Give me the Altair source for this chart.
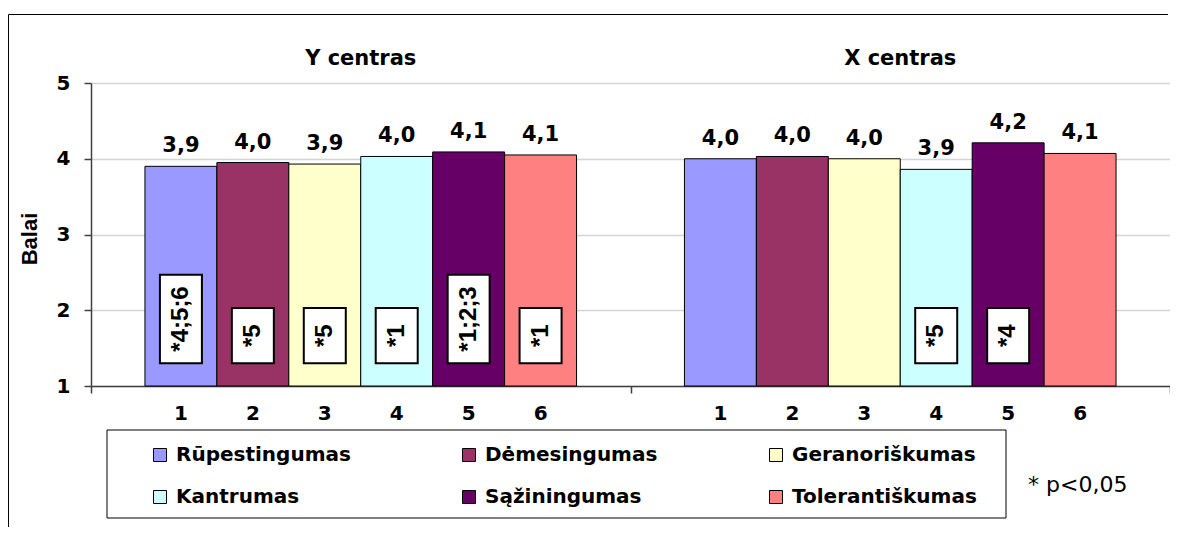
import altair as alt
import pandas as pd

# ---- data ----
groups = ["Y centras", "X centras"]
traits = ["Rūpestingumas", "Dėmesingumas", "Geranoriškumas",
          "Kantrumas", "Sąžiningumas", "Tolerantiškumas"]
trait_numbers = ["1", "2", "3", "4", "5", "6"]
colors = ["#9999FF", "#993366", "#FFFFCC", "#CCFFFF", "#660066", "#FF8080"]

y_values = [3.90, 3.95, 3.93, 4.03, 4.09, 4.05]
y_labels = ["3,9", "4,0", "3,9", "4,0", "4,1", "4,1"]
y_sig = ["*4;5;6", "*5", "*5", "*1", "*1;2;3", "*1"]

x_values = [4.00, 4.03, 4.00, 3.86, 4.21, 4.07]
x_labels = ["4,0", "4,0", "4,0", "3,9", "4,2", "4,1"]
x_sig = ["", "", "", "*5", "*4", ""]

y_ticks = [1, 2, 3, 4, 5]
axis_title = "Balai"
note = "* p<0,05"

# ---- tables ----
rows = []
for g, vals, labs, sigs in [(groups[0], y_values, y_labels, y_sig),
                            (groups[1], x_values, x_labels, x_sig)]:
    for i, t in enumerate(traits):
        rows.append(dict(group=g, trait=t, num=trait_numbers[i],
                         value=vals[i], label=labs[i], sig=sigs[i]))
df = pd.DataFrame(rows)

sig = df[df["sig"] != ""].copy()
sig["lo"] = 1.3
sig["hi"] = sig["lo"] + 0.73 + 0.11 * (sig["sig"].str.len() - 2)
sig["mid"] = (sig["lo"] + sig["hi"]) / 2

gdf = pd.DataFrame({"group": groups})
ndf = pd.DataFrame({"note": [note]})
tdf = pd.DataFrame({"title": [axis_title]})
one = pd.DataFrame({"k": [0]})

BOLD = "DejaVu Sans"

xenc = alt.X("group:N", sort=groups,
             scale=alt.Scale(paddingInner=0, paddingOuter=0),
             axis=alt.Axis(title=None, labels=False, tickBand="extent",
                           tickSize=7, grid=False))
xo = alt.XOffset("trait:N", sort=traits,
                 scale=alt.Scale(paddingOuter=0.75, paddingInner=0))
yscale = alt.Scale(domain=[1, 5], nice=False, zero=False)
yaxis = alt.Axis(values=y_ticks, title=None, grid=True)


def Y(field):
    return alt.Y(field, scale=yscale, axis=yaxis)


bars = alt.Chart(df).mark_bar(stroke="black", strokeWidth=1).encode(
    x=xenc, xOffset=xo, y=Y("value:Q"), y2=alt.datum(1),
    color=alt.Color("trait:N", sort=traits,
                    scale=alt.Scale(domain=traits, range=colors),
                    legend=alt.Legend(title=None, orient="none",
                                      legendX=59, legendY=362,
                                      columns=3, direction="horizontal",
                                      symbolType="square", symbolSize=169,
                                      symbolStrokeColor="black",
                                      symbolStrokeWidth=1, symbolOpacity=1,
                                      labelFont=BOLD, labelFontSize=20,
                                      labelFontWeight="bold",
                                      labelColor="black", labelLimit=400,
                                      columnPadding=108, rowPadding=22,
                                      labelOffset=6, padding=0)),
)

values = alt.Chart(df).mark_text(font=BOLD, fontSize=21, fontWeight="bold",
                                 baseline="alphabetic", dy=-14,
                                 color="black").encode(
    x=xenc, xOffset=xo, y=Y("value:Q"), text="label:N")

numbers = alt.Chart(df).mark_text(font=BOLD, fontSize=20, fontWeight="bold",
                                  baseline="alphabetic",
                                  color="black").encode(
    x=xenc, xOffset=xo, y=alt.value(337), text="num:N")

titles = alt.Chart(gdf).mark_text(font=BOLD, fontSize=21, fontWeight="bold",
                                  baseline="middle", color="black").encode(
    x=xenc, y=alt.value(-24), text="group:N")

boxes = alt.Chart(sig).mark_bar(width=42, fill="white", stroke="black",
                                strokeWidth=2).encode(
    x=xenc, xOffset=xo, y=Y("lo:Q"), y2="hi:Q")

sigtext = alt.Chart(sig).mark_text(font="Liberation Sans", fontSize=24,
                                   fontWeight="bold", angle=270,
                                   align="center", baseline="middle",
                                   color="black").encode(
    x=xenc, xOffset=xo, y=Y("mid:Q"), text="sig:N")

ytitle = alt.Chart(tdf).mark_text(font="Liberation Sans", fontSize=22,
                                  fontWeight="bold", angle=270,
                                  align="center", baseline="middle",
                                  color="black").encode(
    x=alt.value(-61), y=alt.value(156), text="title:N")

notetext = alt.Chart(ndf).mark_text(font="DejaVu Sans", fontSize=22,
                                    align="left", baseline="middle",
                                    color="black").encode(
    x=alt.value(937), y=alt.value(402), text="note:N")

legend_box = alt.Chart(one).mark_rect(fillOpacity=0, stroke="black",
                                      strokeWidth=1).encode(
    x=alt.value(16), x2=alt.value(915), y=alt.value(347), y2=alt.value(435))

border_top = alt.Chart(one).mark_rule(color="black", strokeWidth=1).encode(
    x=alt.value(-82.5), x2=alt.value(1077), y=alt.value(-68.5))
border_left = alt.Chart(one).mark_rule(color="black", strokeWidth=1).encode(
    x=alt.value(-82.5), y=alt.value(-68.5), y2=alt.value(444))

chart = alt.layer(border_top, border_left, bars, boxes, sigtext, values,
                  numbers, titles, ytitle, notetext, legend_box).properties(
    width=1079, height=303,
    autosize=alt.AutoSizeParams(type="none"),
    padding={"left": 83, "top": 75, "right": 0, "bottom": 142},
).configure_view(stroke=None).configure(background="white").configure_axis(
    domainColor="#404040", tickColor="#404040", domainWidth=1.5,
    tickWidth=1.5, tickSize=7, gridColor="#d4d4d4", gridWidth=1.5,
).configure_axisY(
    labelFont=BOLD, labelFontSize=20, labelFontWeight="bold",
    labelColor="black", labelPadding=14,
)

chart.save("out.html", embed_options={"renderer": "svg", "actions": False})
